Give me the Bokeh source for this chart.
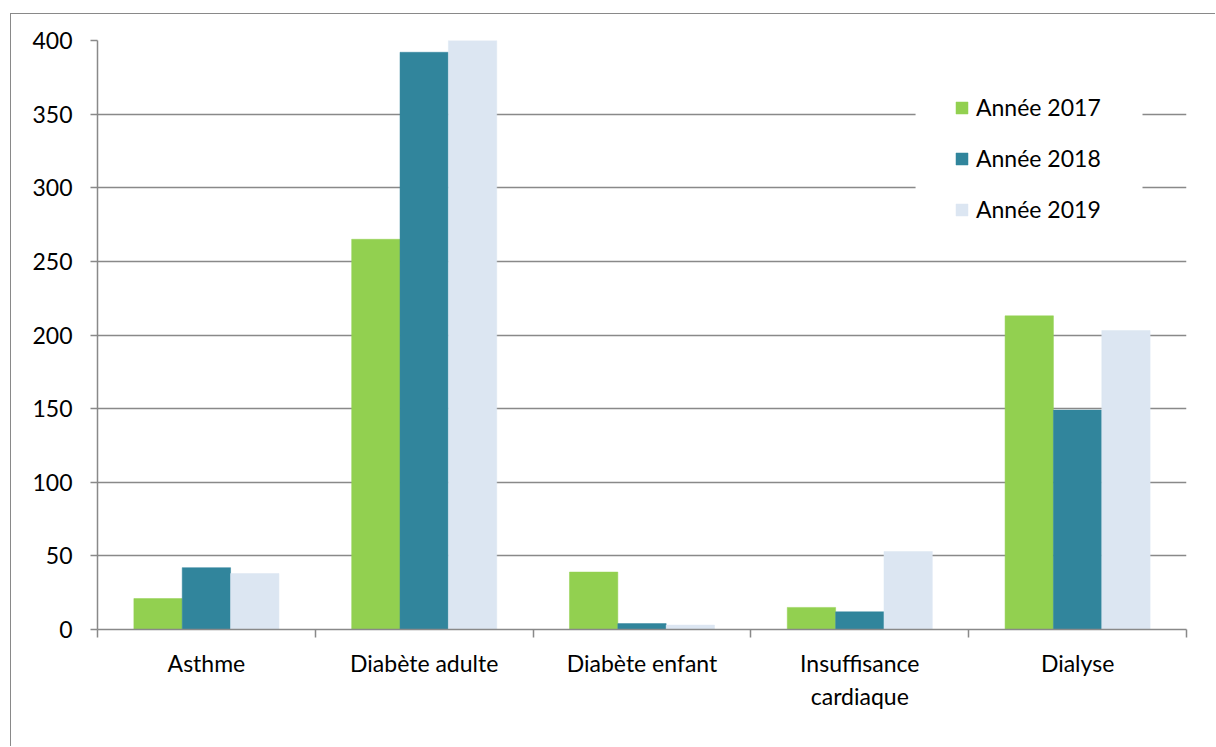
from bokeh.plotting import figure
from bokeh.models import ColumnDataSource, FixedTicker, Range1d, Legend, LegendItem
from bokeh.embed import file_html
from bokeh.resources import INLINE

categories = ["Asthme", "Diabète adulte", "Diabète enfant", "Insuffisance\ncardiaque", "Dialyse"]
series_names = ["Année 2017", "Année 2018", "Année 2019"]
v2017 = [21, 265, 39, 15, 213]
v2018 = [42, 392, 4, 12, 149]
v2019 = [38, 410, 3, 53, 203]
colors = ["#92D050", "#31859C", "#DCE6F2"]
y_ticks = [0, 50, 100, 150, 200, 250, 300, 350, 400]

FONT = "Lato"
FSIZE = "23px"
GRID = "#898989"

p = figure(width=1205, height=733, output_backend="svg", toolbar_location=None,
           x_range=Range1d(0, len(categories)), y_range=Range1d(0, 400),
           min_border_left=86, min_border_top=26, min_border_right=30, min_border_bottom=118)
p.styles = {"margin-left": "10px", "margin-top": "13px",
            "border-left": "1.5px solid #898989", "border-top": "1.5px solid #898989"}
p.outline_line_color = None
p.background_fill_color = "white"

# white legend background area (hides the gridlines behind the legend)
p.quad(left=[3.756], right=[4.798], bottom=[269.6], top=[369.4],
       fill_color="white", line_color=None)

bw = 0.222
renderers = []
for k, (vals, col, name) in enumerate(zip([v2017, v2018, v2019], colors, series_names)):
    xs = [i + 0.5 + (k - 1) * bw for i in range(len(categories))]
    src = ColumnDataSource(dict(x=xs, top=vals))
    r = p.vbar(x="x", top="top", width=bw, source=src, fill_color=col,
               line_color=col, line_width=0.5)
    renderers.append((name, r))

# axes
p.xaxis.ticker = FixedTicker(ticks=[i + 0.5 for i in range(len(categories))],
                             minor_ticks=list(range(len(categories) + 1)))
p.xaxis.major_label_overrides = {i + 0.5: c for i, c in enumerate(categories)}
p.xaxis.major_tick_out = 0
p.xaxis.major_tick_in = 0
p.xaxis.minor_tick_out = 8
p.xaxis.minor_tick_in = 0
p.xaxis.minor_tick_line_color = GRID
p.xaxis.minor_tick_line_width = 1.5
p.xaxis.major_label_standoff = 11
p.xaxis.major_label_orientation = "horizontal"

p.yaxis.ticker = FixedTicker(ticks=y_ticks)
p.yaxis.major_tick_out = 7
p.yaxis.major_tick_in = 0
p.yaxis.minor_tick_line_color = None
p.yaxis.major_label_standoff = 18
p.yaxis.major_tick_line_color = GRID
p.yaxis.major_tick_line_width = 1.5

for ax in (p.xaxis, p.yaxis):
    ax.axis_line_color = GRID
    ax.axis_line_width = 1.5
    ax.major_label_text_font = FONT
    ax.major_label_text_font_size = FSIZE
    ax.major_label_text_color = "black"

p.xgrid.grid_line_color = None
p.ygrid.grid_line_color = GRID
p.ygrid.grid_line_width = 1.5
p.ygrid.ticker = FixedTicker(ticks=y_ticks)

legend = Legend(items=[LegendItem(label=n, renderers=[r]) for n, r in renderers],
                location=(857, 406), orientation="vertical",
                glyph_width=15, glyph_height=15, label_standoff=7,
                spacing=23, padding=0, border_line_color=None,
                background_fill_alpha=0,
                label_text_font=FONT, label_text_font_size=FSIZE,
                label_text_color="black")
p.add_layout(legend, "center")

open("out.html", "w").write(file_html(p, INLINE))
